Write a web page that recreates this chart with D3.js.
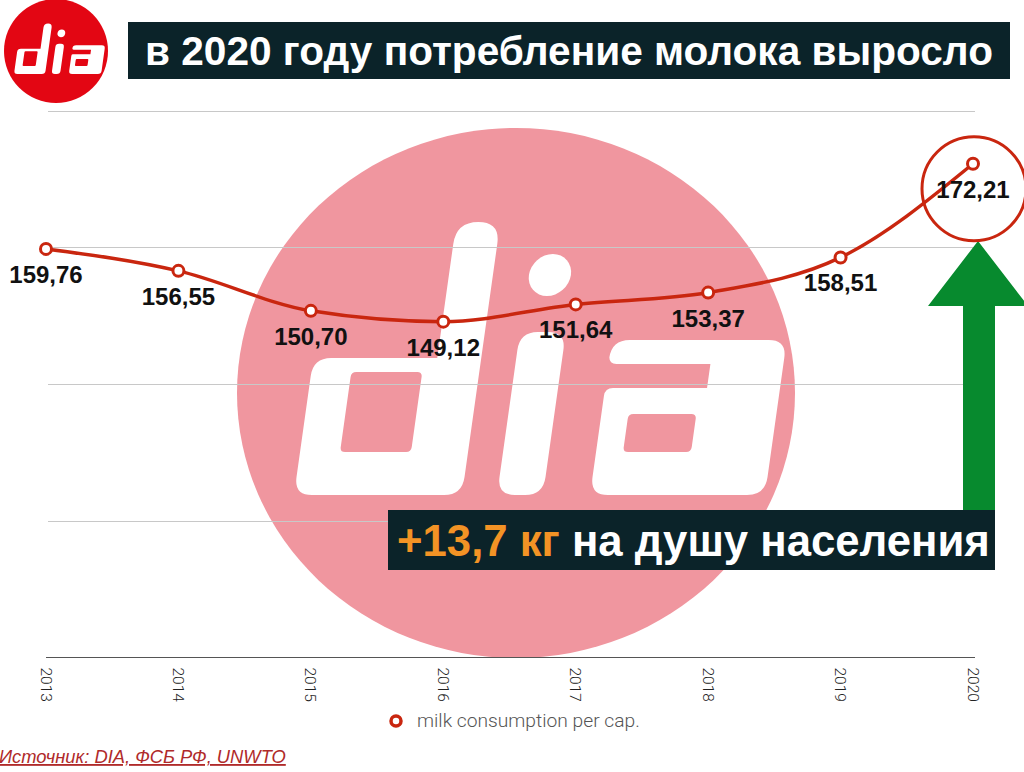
<!DOCTYPE html>
<html><head><meta charset="utf-8">
<script src="https://cdn.jsdelivr.net/npm/d3@7"></script>
<style>body{margin:0;background:#fff;} svg{display:block;}</style>
</head><body><svg id="chart" width="1024" height="772"></svg>
<script>
const years = ["2013","2014","2015","2016","2017","2018","2019","2020"];
const milk = [159.76,156.55,150.70,149.12,151.64,153.37,158.51,172.21];
const valueLabels = ["159,76","156,55","150,70","149,12","151,64","153,37","158,51","172,21"];
const yTicks = [100,120,140,160,180];
const title = "в 2020 году потребление молока выросло";
const calloutHighlight = "+13,7 кг";
const calloutRest = " на душу населения";
const legendLabel = "milk consumption per cap.";
const sourceText = "Источник: DIA, ФСБ РФ, UNWTO";

const svg = d3.select("#chart");
const BOLD = "'Liberation Sans', Arial, Helvetica, sans-serif";
const LIGHT = "Roboto, 'Liberation Sans', Arial, sans-serif";
const RED = "#c9260f";
const DARK = "#0b2329";

const x = d3.scalePoint().domain(years).range([46, 973]);
const y = d3.scaleLinear().domain([100, 180]).range([657.5, 110.5]);

// dia lettering (baseline at y=0, local units)
function rr(x0, y0, x1, y1, r) {
  return `M${x0+r},${y0}H${x1-r}Q${x1},${y0} ${x1},${y0+r}V${y1-r}Q${x1},${y1} ${x1-r},${y1}H${x0+r}Q${x0},${y1} ${x0},${y1-r}V${y0+r}Q${x0},${y0} ${x0+r},${y0}Z`;
}
const dPath = "M18,-137H124V-251Q124,-273 146,-273Q168,-273 168,-251V-18Q168,0 150,0H18Q0,0 0,-18V-119Q0,-137 18,-137Z" + rr(40,-123,111,-43,5);
const iPath = rr(203,-163,249,0,18);
const aPath = "M314,-155H453Q471,-155 471,-137V-18Q471,0 453,0H314Q296,0 296,-18V-99Q296,-107 304,-107H398V-131H304Q296,-131 296,-139V-137Q296,-155 314,-155Z" + rr(323,-81,391,-43,5);
function drawDia(g, fill) {
  g.append("path").attr("d", dPath).attr("fill", fill).attr("fill-rule", "evenodd");
  g.append("circle").attr("cx", 225).attr("cy", -220).attr("r", 21).attr("fill", fill);
  g.append("path").attr("d", iPath).attr("fill", fill);
  g.append("path").attr("d", aPath).attr("fill", fill).attr("fill-rule", "evenodd");
}

// watermark
svg.append("ellipse").attr("cx", 516).attr("cy", 393).attr("rx", 279).attr("ry", 265).attr("fill", "#f0969f");
drawDia(svg.append("g").attr("transform", "translate(294,495) skewX(-8)"), "#fff");

// gridlines
svg.append("g").selectAll("line").data(yTicks.filter(t => t !== 100)).join("line")
  .attr("x1", 48).attr("x2", 975)
  .attr("y1", d => Math.round(y(d)) + 0.5).attr("y2", d => Math.round(y(d)) + 0.5)
  .attr("stroke", "#c8c8c8").attr("stroke-width", 1);

// x axis
const xAxis = svg.append("g").attr("transform", `translate(0,${y(100)})`)
  .call(d3.axisBottom(x).tickSize(0).tickPadding(0));
xAxis.select(".domain").attr("d", "M46,0H975").attr("stroke", "#555").attr("stroke-width", 1.2);
xAxis.selectAll(".tick text")
  .attr("transform", "translate(-6,10) rotate(90)")
  .attr("text-anchor", "start").attr("dy", "0")
  .attr("font-family", LIGHT).attr("font-weight", 300).attr("font-size", 15.5).attr("fill", "#222");

// green arrow
svg.append("path")
  .attr("d", "M978,241L1028,306H995V510H963V306H928Z")
  .attr("fill", "#078a2e");

// line
const pts = years.map((yr, i) => [x(yr), y(milk[i])]);
svg.append("path").attr("d", d3.line().curve(d3.curveMonotoneX)(pts))
  .attr("fill", "none").attr("stroke", RED).attr("stroke-width", 3.5);
svg.append("g").selectAll("circle").data(pts).join("circle")
  .attr("cx", d => d[0]).attr("cy", d => d[1]).attr("r", 5.5)
  .attr("fill", "#fff").attr("stroke", RED).attr("stroke-width", 3);

// value labels
svg.append("g").selectAll("text").data(years).join("text")
  .attr("x", d => x(d)).attr("y", (d, i) => y(milk[i]) + 34)
  .attr("text-anchor", "middle").attr("font-family", BOLD).attr("font-weight", 700)
  .attr("font-size", 24).attr("fill", "#111")
  .text((d, i) => valueLabels[i]);

// highlight circle
svg.append("circle").attr("cx", x("2020") + 1).attr("cy", y(milk[milk.length-1]) + 25).attr("r", 52)
  .attr("fill", "none").attr("stroke", RED).attr("stroke-width", 3);

// title
svg.append("rect").attr("x", 128).attr("y", 22).attr("width", 882).attr("height", 57).attr("fill", DARK);
const t = svg.append("text").attr("x", 145).attr("y", 65).attr("font-family", BOLD).attr("font-weight", 700)
  .attr("font-size", 34).attr("fill", "#fff").text(title);
function fit(sel, target, fs) {
  const w = sel.node().getComputedTextLength();
  sel.attr("font-size", Math.max(fs * 0.8, Math.min(fs * 1.25, fs * target / w)));
}
fit(t, 848, 34);

// logo
svg.append("circle").attr("cx", 56).attr("cy", 51).attr("r", 52).attr("fill", "#e30613");
drawDia(svg.append("g").attr("transform", "translate(14,74) scale(0.185) skewX(-8)"), "#fff");

// callout
svg.append("rect").attr("x", 388).attr("y", 510).attr("width", 607).attr("height", 60).attr("fill", DARK);
const c = svg.append("text").attr("x", 397).attr("y", 556).attr("font-family", BOLD).attr("font-weight", 700)
  .attr("font-size", 36);
c.append("tspan").attr("fill", "#f39325").text(calloutHighlight);
c.append("tspan").attr("fill", "#fff").text(calloutRest);
fit(c, 593, 36);

// legend
svg.append("circle").attr("cx", 396).attr("cy", 721).attr("r", 5).attr("fill", "#fff")
  .attr("stroke", RED).attr("stroke-width", 3.5);
const lg = svg.append("text").attr("x", 417).attr("y", 727).attr("font-family", LIGHT).attr("font-weight", 300)
  .attr("font-size", 17).attr("fill", "#555").text(legendLabel);
fit(lg, 223, 17);

// source
const src = svg.append("text").attr("x", -1).attr("y", 763).attr("font-family", BOLD).attr("font-style", "italic")
  .attr("font-size", 17).attr("fill", "#b02a2a").attr("text-decoration", "underline").text(sourceText);
fit(src, 287, 17);
</script></body></html>
